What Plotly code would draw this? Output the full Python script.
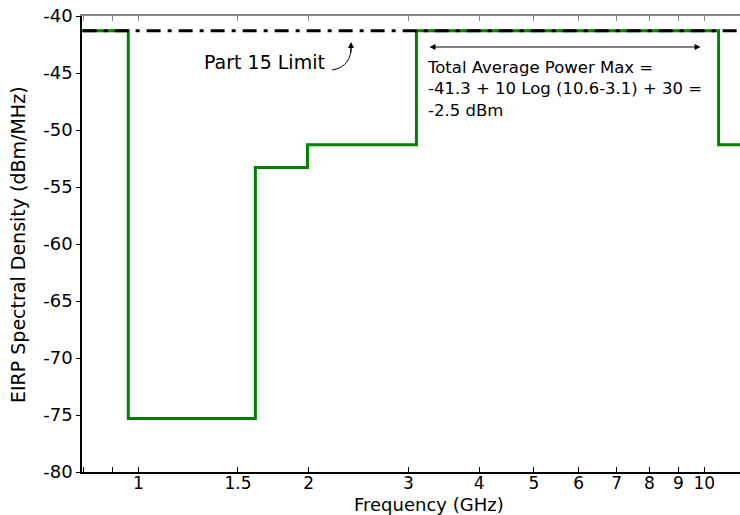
import numpy as np
import plotly.graph_objects as go

# Data (FCC UWB indoor mask)
edges_ghz = [0.70, 0.96, 1.61, 1.99, 3.1, 10.6, 13.0]
levels_dbm = [-41.3, -75.3, -53.3, -51.3, -41.3, -51.3]
part15_limit = -41.3
x_tick_vals = [0.8, 0.9, 1, 1.5, 2, 3, 4, 5, 6, 7, 8, 9, 10]
x_tick_text = ["", "", "1", "1.5", "2", "3", "4", "5", "6", "7", "8", "9", "10"]
y_tick_vals = [-80, -75, -70, -65, -60, -55, -50, -45, -40]
y_tick_text = ["-80", "-75", "-70", "-65", "-60", "-55", "-50", "-45", "-40"]
arrow_span = [3.25, 9.85]
arrow_level = -42.72

# build step path
sx, sy = [], []
for i, lv in enumerate(levels_dbm):
    sx += [edges_ghz[i], edges_ghz[i + 1]]
    sy += [lv, lv]

FONT = "DejaVu Sans"
W, H = 740, 515
ML, MR, MT, MB = 82, 0, 16, 43
pw, ph = W - ML - MR, H - MT - MB
xr = [-0.0995, 1.0631]
yr = [-80, -40]

def px2paper(px, py):
    return (px - ML) / pw, (H - MB - py) / ph

fig = go.Figure()
fig.add_trace(go.Scatter(x=sx, y=sy, mode="lines",
                         line=dict(color="#008000", width=3), showlegend=False,
                         hoverinfo="skip"))
fig.add_trace(go.Scatter(x=[edges_ghz[0], edges_ghz[-1]], y=[part15_limit, part15_limit],
                         mode="lines", line=dict(color="black", width=3, dash="14px,7px,4px,7px"),
                         showlegend=False, hoverinfo="skip"))
# dummy trace for top axis
fig.add_trace(go.Scatter(x=[1], y=[-60], xaxis="x2", mode="markers",
                         marker=dict(opacity=0), showlegend=False, hoverinfo="skip"))

fig.update_layout(
    width=W, height=H, margin=dict(l=ML, r=MR, t=MT, b=MB),
    paper_bgcolor="white", plot_bgcolor="white",
    font=dict(family=FONT, size=18, color="black"),
    xaxis=dict(type="log", range=xr, tickvals=x_tick_vals, ticktext=x_tick_text,
               ticks="inside", ticklen=5, tickwidth=1, tickcolor="black",
               showline=True, linecolor="black", linewidth=1.5, showgrid=False,
               zeroline=False, tickfont=dict(size=17), ticklabelstandoff=-5),
    xaxis2=dict(type="log", range=xr, overlaying="x", side="top",
                tickvals=x_tick_vals, showticklabels=False,
                ticks="inside", ticklen=5, tickwidth=1, tickcolor="#888888",
                showline=True, linecolor="#888888", linewidth=1.5, showgrid=False,
                zeroline=False),
    yaxis=dict(range=yr, tickvals=y_tick_vals, ticktext=y_tick_text,
               ticks="outside", ticklen=4, tickwidth=1, tickcolor="black",
               showline=True, linecolor="black", linewidth=1.5, showgrid=False,
               zeroline=False, tickfont=dict(size=18)),
)

anns = []
# x axis title
anns.append(dict(xref="paper", yref="paper", x=px2paper(429, 0)[0], y=px2paper(0, 515)[1],
                 text="Frequency (GHz)", showarrow=False, font=dict(size=18),
                 xanchor="center", yanchor="bottom", yshift=-2))
# y axis title
anns.append(dict(xref="paper", yref="paper", x=px2paper(18, 0)[0], y=px2paper(0, 245)[1],
                 text="EIRP Spectral Density (dBm/MHz)", showarrow=False, font=dict(size=19),
                 textangle=-90, xanchor="center", yanchor="middle"))
# Part 15 label
anns.append(dict(xref="paper", yref="paper", x=px2paper(264, 0)[0], y=px2paper(0, 62)[1],
                 text="Part 15 Limit", showarrow=False, font=dict(size=19),
                 xanchor="center", yanchor="middle"))
# arrowhead of curved arrow
tipx, tipy = px2paper(351, 42)
anns.append(dict(xref="paper", yref="paper", x=tipx, y=tipy, ax=0, ay=12,
                 text="", showarrow=True, arrowhead=2, arrowsize=1.2, arrowwidth=1,
                 arrowcolor="black"))
# double arrow
anns.append(dict(xref="x", yref="y", x=np.log10(arrow_span[1]), y=arrow_level,
                 axref="x", ayref="y", ax=np.log10(arrow_span[0]), ay=arrow_level,
                 text="", showarrow=True, arrowhead=2, startarrowhead=2, arrowside="end+start",
                 arrowsize=1.2, arrowwidth=1, arrowcolor="black"))
# total power text
anns.append(dict(xref="paper", yref="paper", x=px2paper(425, 0)[0], y=px2paper(0, 56)[1],
                 text="Total Average Power Max =<br>-41.3 + 10 Log (10.6-3.1) + 30 =<br>-2.5 dBm",
                 showarrow=False, font=dict(size=16.5), align="left",
                 xanchor="left", yanchor="top"))
fig.update_layout(annotations=anns)

# curved arrow body
p0 = px2paper(332, 70)
p1 = px2paper(346, 68)
p2 = px2paper(351, 58)
p3 = px2paper(351, 48)
fig.add_shape(type="path", xref="paper", yref="paper",
              path=f"M {p0[0]},{p0[1]} C {p1[0]},{p1[1]} {p2[0]},{p2[1]} {p3[0]},{p3[1]}",
              line=dict(color="black", width=1))

fig.write_html("out.html", config={"displayModeBar": False},
               post_script="document.body.style.margin='0';document.body.style.overflow='hidden';")
